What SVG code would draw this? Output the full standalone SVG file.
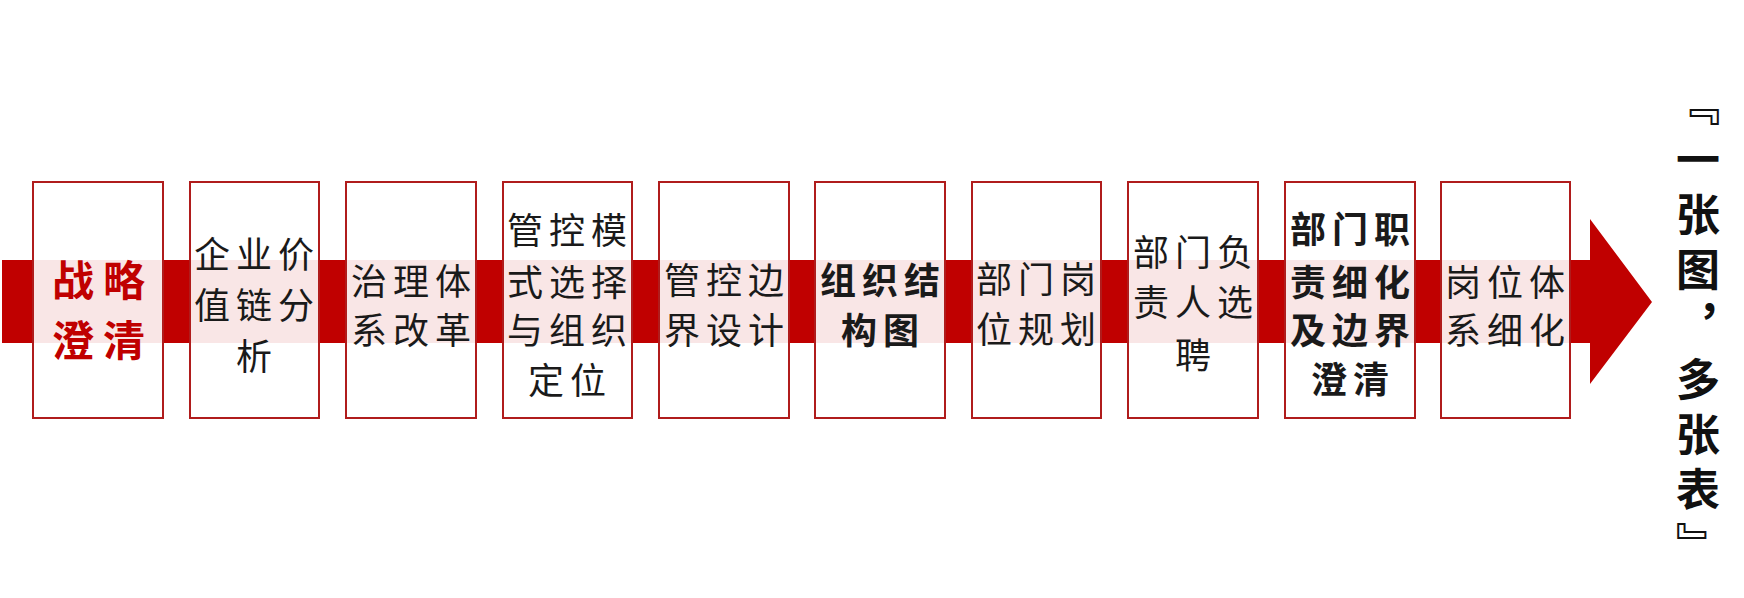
<svg xmlns="http://www.w3.org/2000/svg" width="1744" height="598" viewBox="0 0 1744 598">
<style>
.box{fill:#ffffff;fill-opacity:0.9;stroke:#b01c1c;stroke-width:2}
.t{font-family:"Noto Sans CJK SC","Noto Sans CJK JP",sans-serif;font-size:36px;letter-spacing:6px;fill:#1a1a1a;text-anchor:middle;dominant-baseline:central}
.b{font-weight:bold}
.r{fill:#c00000;font-weight:bold;font-size:42px;letter-spacing:9px}
.v{font-family:"Noto Sans CJK SC","Noto Sans CJK JP",sans-serif;font-size:44px;font-weight:bold;fill:#111;writing-mode:vertical-rl;letter-spacing:11px}
</style>
<rect width="1744" height="598" fill="#ffffff"/>
<g id="connectors">
<path d="M2,260 H1590 V219 L1652,302 L1590,384 V343 H2 Z" fill="#c00000"/>
</g>
<g id="n1"><rect class="box" x="33" y="182" width="130" height="236"/>
<text class="t r" x="103" y="277">战略</text><text class="t r" x="103" y="337">澄清</text></g>
<g id="n2"><rect class="box" x="190" y="182" width="129" height="236"/>
<text class="t" x="257" y="252">企业价</text><text class="t" x="257" y="303">值链分</text><text class="t" x="257" y="354">析</text></g>
<g id="n3"><rect class="box" x="346" y="182" width="130" height="236"/>
<text class="t" x="414" y="279">治理体</text><text class="t" x="414" y="328">系改革</text></g>
<g id="n4"><rect class="box" x="503" y="182" width="129" height="236"/>
<text class="t" x="570" y="228">管控模</text><text class="t" x="570" y="280">式选择</text><text class="t" x="570" y="328">与组织</text><text class="t" x="570" y="378">定位</text></g>
<g id="n5"><rect class="box" x="659" y="182" width="130" height="236"/>
<text class="t" x="727" y="278">管控边</text><text class="t" x="727" y="328">界设计</text></g>
<g id="n6"><rect class="box" x="815" y="182" width="130" height="236"/>
<text class="t b" x="883" y="278">组织结</text><text class="t b" x="883" y="328">构图</text></g>
<g id="n7"><rect class="box" x="972" y="182" width="129" height="236"/>
<text class="t" x="1039" y="277">部门岗</text><text class="t" x="1039" y="327">位规划</text></g>
<g id="n8"><rect class="box" x="1128" y="182" width="130" height="236"/>
<text class="t" x="1196" y="250">部门负</text><text class="t" x="1196" y="300">责人选</text><text class="t" x="1196" y="353">聘</text></g>
<g id="n9"><rect class="box" x="1285" y="182" width="130" height="236"/>
<text class="t b" x="1353" y="227">部门职</text><text class="t b" x="1353" y="280">责细化</text><text class="t b" x="1353" y="328">及边界</text><text class="t b" x="1353" y="377">澄清</text></g>
<g id="n10"><rect class="box" x="1441" y="182" width="129" height="236"/>
<text class="t" x="1508" y="280">岗位体</text><text class="t" x="1508" y="328">系细化</text></g>
<g id="title"><text class="v" x="1698" y="82">『一张图，多张表』</text></g>
</svg>
